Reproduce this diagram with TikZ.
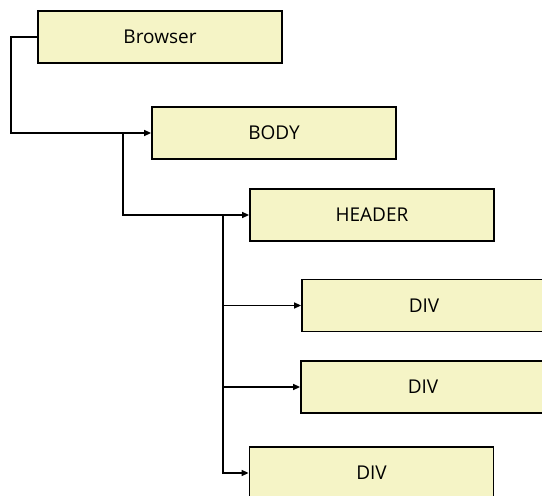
\documentclass[tikz,border=0pt]{standalone}
\usepackage{fontspec}
\setmainfont{Open Sans}
\usepackage{tikz}
\usetikzlibrary{arrows.meta}
\definecolor{boxfill}{RGB}{245,244,198}

\begin{document}
\begin{tikzpicture}[x=1pt, y=-1pt,
    elem/.style={draw, line width=1.8pt, fill=boxfill, minimum width=244pt, minimum height=52pt, inner sep=0pt, font=\fontsize{19}{22}\selectfont},
    link/.style={line width=1.4pt, -{Triangle[length=7pt,width=6pt]}}]
        \useasboundingbox (0,0) rectangle (542,496);

        % Boxes
        \node[elem] (browser) at (160,37) {Browser};
        \node[elem] (body) at (274,133) {BODY};
        \node[elem] (header) at (372,215) {HEADER};
        \node[elem] (div1) at (424,305.5) {DIV};
        \node[elem] (div2) at (423,387) {DIV};
        \node[elem] (div3) at (371.5,473) {DIV};

        % Forks
        \coordinate (bodyfork) at (123,133);
        \coordinate (headerfork) at (223,215);

        % Connectors
        \draw[link] (browser.west) -- ++(-26,0) |- (body.west);
        \draw[link] (bodyfork) |- (header.west);
        \draw[link] (headerfork) |- (div1.west);
        \draw[link] (headerfork) |- (div2.west);
        \draw[link] (headerfork) |- (div3.west);
    \end{tikzpicture}
\end{document}
